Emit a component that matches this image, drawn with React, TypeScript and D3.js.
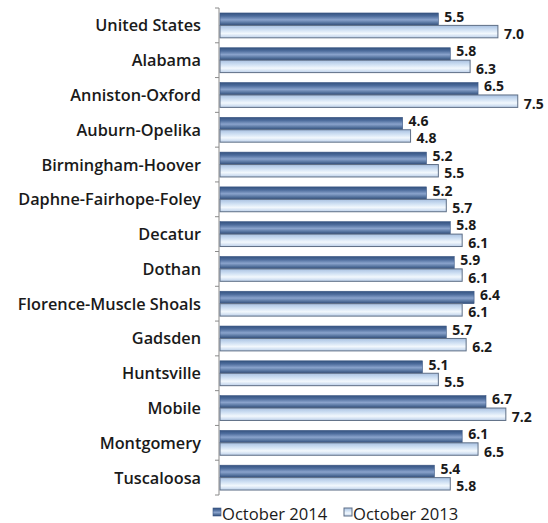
import React from "react";
import * as d3 from "d3";

const categories = [
  "United States",
  "Alabama",
  "Anniston-Oxford",
  "Auburn-Opelika",
  "Birmingham-Hoover",
  "Daphne-Fairhope-Foley",
  "Decatur",
  "Dothan",
  "Florence-Muscle Shoals",
  "Gadsden",
  "Huntsville",
  "Mobile",
  "Montgomery",
  "Tuscaloosa",
];
const oct2014 = [5.5, 5.8, 6.5, 4.6, 5.2, 5.2, 5.8, 5.9, 6.4, 5.7, 5.1, 6.7, 6.1, 5.4];
const oct2013 = [7.0, 6.3, 7.5, 4.8, 5.5, 5.7, 6.1, 6.1, 6.1, 6.2, 5.5, 7.2, 6.5, 5.8];
const seriesNames = ["October 2014", "October 2013"];

const W = 548;
const H = 523;
const FONT = "'Open Sans', Lato, 'DejaVu Sans', sans-serif";

export default function App() {
  const x = d3.scaleLinear().domain([0, 8]).range([220, 537.6]);
  const y = d3.scaleBand().domain(categories).range([8, 495]).paddingInner(0).paddingOuter(0);
  const sub = d3.scaleBand().domain(seriesNames).range([0, y.bandwidth()]).paddingInner(0).paddingOuter(0.4);
  const axisX = 219;
  const boundaries = d3.range(categories.length + 1).map((i) => 8 + i * y.step());

  return (
    <svg width={W} height={H} style={{ position: "absolute", left: 0, top: 0, background: "#fff" }}>
      <defs>
        <linearGradient id="gDark" x1="0" y1="0" x2="0" y2="1">
          <stop offset="0%" stopColor="#34527f" />
          <stop offset="25%" stopColor="#4d6c9c" />
          <stop offset="55%" stopColor="#8aa3cc" />
          <stop offset="80%" stopColor="#56749f" />
          <stop offset="100%" stopColor="#2f4a76" />
        </linearGradient>
        <linearGradient id="gLight" x1="0" y1="0" x2="0" y2="1">
          <stop offset="0%" stopColor="#a9c1e1" />
          <stop offset="35%" stopColor="#cfe0f3" />
          <stop offset="65%" stopColor="#f2f8fd" />
          <stop offset="100%" stopColor="#bcd0ea" />
        </linearGradient>
      </defs>

      {/* axis */}
      <line x1={axisX} x2={axisX} y1={8} y2={495} stroke="#8a8a8a" strokeWidth={1} />
      {boundaries.map((b, i) => (
        <line key={i} x1={axisX - 4} x2={axisX} y1={b} y2={b} stroke="#8a8a8a" strokeWidth={1} />
      ))}

      {categories.map((c, i) => {
        const y0 = y(c)!;
        const vals = [oct2014[i], oct2013[i]];
        return (
          <g key={c}>
            <text
              x={201}
              y={y0 + y.bandwidth() / 2}
              textAnchor="end"
              dominantBaseline="central"
              fontFamily={FONT}
              fontWeight={600}
              fontSize={16.3}
              fill="#1a1a1a"
            >
              {c}
            </text>
            {vals.map((v, j) => {
              const s = seriesNames[j];
              const by = y0 + sub(s)!;
              const bh = sub.bandwidth();
              return (
                <g key={s}>
                  <rect
                    x={x(0)}
                    y={by}
                    width={x(v) - x(0)}
                    height={bh}
                    fill={j === 0 ? "url(#gDark)" : "url(#gLight)"}
                    stroke={j === 0 ? "#3a5683" : "#5f6f86"}
                    strokeWidth={j === 0 ? 0.6 : 1}
                  />
                  <text
                    x={x(v) + 6}
                    y={by + bh / 2 + (j === 0 ? -3 : 2)}
                    dominantBaseline="central"
                    fontFamily={FONT}
                    fontWeight={700}
                    fontSize={14}
                    fill="#1a1a1a"
                  >
                    {v.toFixed(1)}
                  </text>
                </g>
              );
            })}
          </g>
        );
      })}

      {/* legend */}
      <g fontFamily={FONT} fontSize={16.6} fill="#1a1a1a">
        <rect x={213} y={508} width={8} height={8} fill="url(#gDark)" stroke="#3a5683" strokeWidth={0.6} />
        <text x={222} y={513} dominantBaseline="central">{seriesNames[0]}</text>
        <rect x={344} y={508} width={8} height={8} fill="url(#gLight)" stroke="#5f6f86" strokeWidth={1} />
        <text x={353} y={513} dominantBaseline="central">{seriesNames[1]}</text>
      </g>
    </svg>
  );
}
